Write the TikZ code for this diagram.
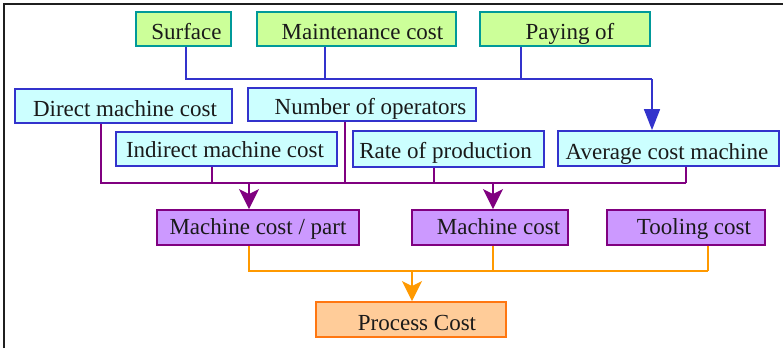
\documentclass[tikz,border=0pt]{standalone}
\usepackage{fontspec}
\setmainfont{Liberation Serif}
\usetikzlibrary{arrows.meta}

\definecolor{gfill}{HTML}{CCFF99}
\definecolor{gdraw}{HTML}{009999}
\definecolor{cfill}{HTML}{CCFFFF}
\definecolor{cdraw}{HTML}{3333CC}
\definecolor{pfill}{HTML}{CC99FF}
\definecolor{pdraw}{HTML}{800080}
\definecolor{ofill}{HTML}{FFCC99}
\definecolor{odraw}{HTML}{FF7711}
\definecolor{oline}{HTML}{FF9900}
\definecolor{txt}{HTML}{1A1A1A}

\begin{document}
\begin{tikzpicture}[x=1pt,y=-1pt,
  box/.style={draw, line width=1.8pt, inner sep=0pt, text=txt,
    font=\fontsize{23}{27}\selectfont, text depth=0pt, text height=20pt},
  gbox/.style={box, fill=gfill, draw=gdraw, minimum height=34pt},
  cbox/.style={box, fill=cfill, draw=cdraw, minimum height=34pt},
  pbox/.style={box, fill=pfill, draw=pdraw, minimum height=35pt, text height=13.2pt},
  obox/.style={box, fill=ofill, draw=odraw, minimum height=35pt, text height=21pt},
  blueline/.style={draw=cdraw, line width=1.6pt},
  purpline/.style={draw=pdraw, line width=1.6pt},
  orgline/.style={draw=oline, line width=1.6pt},
  bluetip/.style={-{Triangle[length=21pt,width=16pt]}},
  softtip/.style={-{Stealth[length=20pt,width=20pt,inset=5pt]}},
  frame/.style={draw=black!88, line width=2pt}]

\useasboundingbox (0,0) rectangle (783,348);
\draw[frame] (4.3,348) -- (4.3,4.3) -- (783,4.3);

% top row
\node[gbox, minimum width=95pt]  (surf)  at (183.5,29) {\hspace*{6pt}Surface};
\node[gbox, minimum width=199pt] (maint) at (356.5,29) {\hspace*{12pt}Maintenance cost};
\node[gbox, minimum width=170pt] (pay)   at (565,29)   {\hspace*{10pt}Paying of};

% cost factors
\node[cbox, minimum width=217pt, text height=21.4pt] (direct) at (123.5,106) {\hspace*{3pt}Direct machine cost};
\node[cbox, minimum width=228pt, minimum height=33pt] (numop) at (362,104.5) {\hspace*{17pt}Number of operators};
\node[cbox, minimum width=221pt, text height=16.6pt] (indirect) at (226.5,149) {\hspace*{-3pt}Indirect machine cost};
\node[cbox, minimum width=191pt, minimum height=36pt, text height=19pt] (rate) at (448.5,149) {\hspace*{-6pt}Rate of production};
\node[cbox, minimum width=221pt, minimum height=35pt, text height=21.6pt] (avg) at (668.5,148.5) {\hspace*{-3pt}Average cost machine};

% intermediate costs
\node[pbox, minimum width=202pt] (mcp)  at (258,227.5) {Machine cost / part};
\node[pbox, minimum width=156pt] (mc)   at (490,227.5) {\hspace*{17pt}Machine cost};
\node[pbox, minimum width=158pt] (tool) at (686,227.5) {\hspace*{16pt}Tooling cost};

% result
\node[obox, minimum width=190pt] (proc) at (411,319.5) {\hspace*{12pt}Process Cost};

% bus junctions
\coordinate (bend) at (652,79);
\coordinate (pend) at (685.7,183);
\coordinate (pa)   at (249,183);
\coordinate (pb)   at (493,183);
\coordinate (oend) at (708,271);
\coordinate (oa)   at (412,271);

% blue bus into the average machine cost
\draw[blueline] ([xshift=2.2pt]surf.south) |- (bend);
\draw[blueline] ([xshift=-31.5pt]maint.south) |- (bend);
\draw[blueline] ([xshift=-44pt]pay.south) |- (bend);
\draw[blueline, bluetip] (bend) -- (avg.north -| bend);

% purple bus into the machine costs
\draw[purpline] ([xshift=-22.8pt]direct.south) |- (pend);
\draw[purpline] ([xshift=-14.5pt]indirect.south) |- (pend);
\draw[purpline] ([xshift=-17pt]numop.south) |- (pend);
\draw[purpline] ([xshift=-14.5pt]rate.south) |- (pend);
\draw[purpline] ([xshift=17.2pt]avg.south) -- (pend);
\draw[purpline, softtip] (pa) -- (mcp.north -| pa);
\draw[purpline, softtip] (pb) -- (mc.north -| pb);

% orange bus into the process cost
\draw[orgline] ([xshift=-9pt]mcp.south) |- (oend);
\draw[orgline] ([xshift=3pt]mc.south) |- (oend);
\draw[orgline] ([xshift=22pt]tool.south) -- (oend);
\draw[orgline, softtip] (oa) -- (proc.north -| oa);

\end{tikzpicture}
\end{document}
